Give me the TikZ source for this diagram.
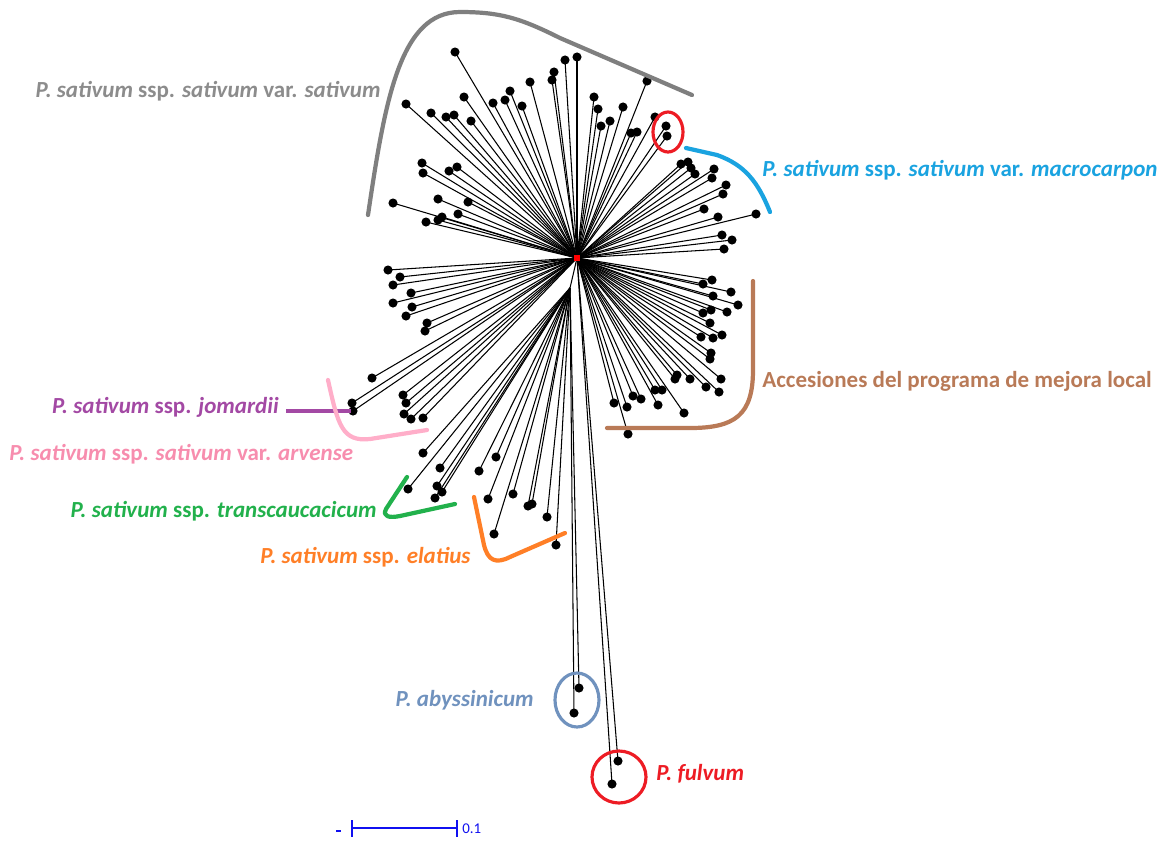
\documentclass[tikz,border=0pt]{standalone}
\usepackage{fontspec}
\setmainfont{Carlito}
\usepackage{xcolor}
\usetikzlibrary{positioning}

\definecolor{grayclade}{HTML}{7F7F7F}
\definecolor{graytext}{HTML}{8C8C8C}
\definecolor{macroblue}{HTML}{1AA3E0}
\definecolor{localbrown}{HTML}{B97A57}
\definecolor{jompurple}{HTML}{A349A4}
\definecolor{arvpink}{HTML}{FFAEC9}
\definecolor{arvtext}{HTML}{F78DAE}
\definecolor{transgreen}{HTML}{22B14C}
\definecolor{elatorange}{HTML}{FF7F27}
\definecolor{abyblue}{HTML}{7092BE}
\definecolor{fulvred}{HTML}{ED1C24}
\definecolor{scaleblue}{HTML}{1010F0}

\tikzset{
  branch/.style={black, line width=0.6pt},
  leaf/.style={black},
  bracket/.style={line width=2.4pt, line cap=round, line join=round},
  ring/.style={line width=1.8pt},
  cladelabel/.style={font=\fontsize{13.1}{15}\selectfont\bfseries, inner sep=0pt}
}

\begin{document}
\begin{tikzpicture}[x=0.02cm, y=-0.02cm]
\useasboundingbox (0,0) rectangle (1167,840);
% Root and inner split
\coordinate (root) at (577,258);
\coordinate (low) at (570,288);
\draw[branch] (root) -- (low);
% Leaves joined at the root
\foreach \x/\y in {455/52,565/60,577/57,554/72,552/80,530/82,510/91,505/100,522/106,
  493/103,464/97,406/104,431/113,446/117,454/115,471/121,422/163,423/173,449/171,
  457/167,438/199,468/202,393/203,458/214,442/217,438/220,426/222,
  647/81,594/97,598/109,623/107,610/121,601/126,631/133,637/132,655/117,666/126,
  667/136,681/164,688/162,691/168,695/174,714/169,712/178,726/185,723/194,704/209,
  718/217,756/214,722/235,732/240,724/249,
  712/280,703/284,731/292,713/296,738/305,711/310,703/313,727/312,710/323,722/335,
  701/337,713/338,711/353,710/359,677/375,675/379,690/379,721/379,706/387,719/392,
  655/390,662/390,633/396,641/399,658/405,614/403,627/407,684/413,628/434,
  388/270,400/277,393/285,411/293,393/303,412/307,406/316,427/323,425/331,372/378,
  352/403,353/411,403/395,406/403,404/414,411/419,423/418,
  618/761,612/784} {
  \draw[branch] (root) -- (\x,\y);
  \fill[leaf] (\x,\y) circle (2.6pt);
}
% Leaves joined below the root
\foreach \x/\y in {423/453,408/489,440/468,437/486,442/492,435/498,479/471,496/457,
  488/499,513/494,528/506,532/504,494/534,547/517,556/545,579/688,574/713} {
  \draw[branch] (low) -- (\x,\y);
  \fill[leaf] (\x,\y) circle (2.6pt);
}
% Root mark
\fill[red] (574,255) rectangle (580,261);
% var. sativum
\draw[bracket, grayclade] (368,215) .. controls (385,100) and (400,12) .. (460,12)
  .. controls (500,12) and (520,18) .. (560,38) -- (692,95);
\node[cladelabel, graytext, anchor=east] (sativum) at (381,91)
  {\textit{P. sativum} ssp. \textit{sativum} var. \textit{sativum}};
% var. macrocarpon
\draw[ring, fulvred] (668,132) ellipse (15 and 20);
\draw[bracket, macroblue] (686,148) -- (717,155) .. controls (745,165) and (758,182) .. (770,212);
\node[cladelabel, macroblue, anchor=west] (macrocarpon) at (762,170)
  {\textit{P. sativum} ssp. \textit{sativum} var. \textit{macrocarpon}};
% local breeding accessions
\draw[bracket, localbrown] (753,281) -- (753,370) .. controls (753,415) and (735,428) .. (690,428) -- (607,428);
\node[cladelabel, localbrown, anchor=west] (local) at (762,381)
  {Accesiones del programa de mejora local};
% ssp. jomardii
\draw[bracket, jompurple, line cap=butt] (286,411) -- (351,411);
\node[cladelabel, jompurple, anchor=east] (jomardii) at (279,407)
  {\textit{P. sativum} ssp. \textit{jomardii}};
% var. arvense
\draw[bracket, arvpink] (328,380) .. controls (338,425) and (342,442) .. (370,439) -- (427,430);
\node[cladelabel, arvtext, anchor=west] (arvense) at (9,454)
  {\textit{P. sativum} ssp. \textit{sativum} var. \textit{arvense}};
% ssp. transcaucacicum
\draw[bracket, transgreen] (407,477) -- (386,509) .. controls (382,517) and (390,518) .. (400,516) -- (455,504);
\node[cladelabel, transgreen, anchor=east] (transcau) at (377,511)
  {\textit{P. sativum} ssp. \textit{transcaucacicum}};
% ssp. elatius
\draw[bracket, elatorange] (474,497) -- (484,545) .. controls (488,561) and (496,564) .. (510,557) -- (565,533);
\node[cladelabel, elatorange, anchor=east] (elatius) at (471,557)
  {\textit{P. sativum} ssp. \textit{elatius}};
% P. abyssinicum
\draw[ring, abyblue] (577,700) ellipse (22 and 27);
\node[cladelabel, abyblue, anchor=east] (abyss) at (534,700) {\textit{P. abyssinicum}};
% P. fulvum
\draw[ring, fulvred] (619,777) ellipse (27 and 26);
\node[cladelabel, fulvred, anchor=west] (fulvum) at (656,774) {\textit{P. fulvum}};
% Scale bar
\draw[scaleblue, line width=1.1pt] (352,828) -- (457,828);
\draw[scaleblue, line width=1.1pt] (352,820) -- (352,837);
\draw[scaleblue, line width=1.1pt] (457,820) -- (457,837);
\draw[scaleblue, line width=0.9pt] (336,831) -- (341,831);
\node[scaleblue, font=\fontsize{8.5}{9}\selectfont, anchor=west, inner sep=0pt] (scale) at (462,829) {0.1};
\end{tikzpicture}
\end{document}
